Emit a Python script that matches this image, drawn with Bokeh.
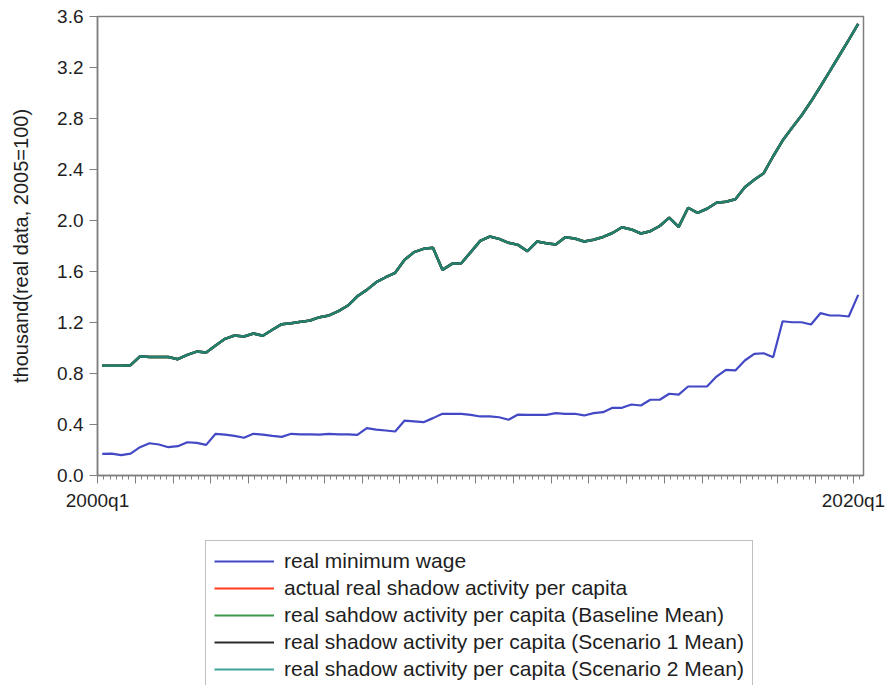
from bokeh.plotting import figure
from bokeh.layouts import column
from bokeh.models import FixedTicker, Legend, LegendItem, NumeralTickFormatter
from bokeh.embed import file_html
from bokeh.resources import INLINE

# Quarterly observations, 2000q1 .. 2020q1 (index 0 .. 80)
quarters = list(range(81))

# Real minimum wage (thousand, 2005=100)
min_wage = [
    0.170, 0.172, 0.160, 0.172, 0.222, 0.253, 0.243, 0.222, 0.230, 0.261,
    0.256, 0.240, 0.327, 0.320, 0.311, 0.296, 0.327, 0.320, 0.311, 0.303,
    0.327, 0.322, 0.322, 0.320, 0.327, 0.322, 0.322, 0.318, 0.371, 0.360,
    0.353, 0.345, 0.431, 0.425, 0.418, 0.450, 0.484, 0.484, 0.484, 0.475,
    0.463, 0.463, 0.457, 0.437, 0.478, 0.476, 0.476, 0.476, 0.489, 0.484,
    0.484, 0.471, 0.489, 0.497, 0.531, 0.531, 0.557, 0.549, 0.594, 0.594,
    0.641, 0.635, 0.698, 0.698, 0.698, 0.776, 0.829, 0.824, 0.902, 0.954,
    0.959, 0.928, 1.210, 1.202, 1.202, 1.184, 1.273, 1.255, 1.255, 1.247,
    1.417,
]

# Actual real shadow activity per capita (thousand, 2005=100)
shadow_actual = [
    0.860, 0.860, 0.860, 0.865, 0.935, 0.930, 0.930, 0.930, 0.912, 0.946,
    0.972, 0.965, 1.020, 1.072, 1.098, 1.090, 1.114, 1.096, 1.143, 1.187,
    1.195, 1.205, 1.216, 1.242, 1.255, 1.289, 1.333, 1.406, 1.456, 1.516,
    1.555, 1.590, 1.692, 1.752, 1.778, 1.786, 1.613, 1.660, 1.665, 1.752,
    1.840, 1.874, 1.856, 1.825, 1.809, 1.759, 1.835, 1.822, 1.812, 1.869,
    1.859, 1.835, 1.849, 1.871, 1.902, 1.947, 1.930, 1.898, 1.916, 1.957,
    2.023, 1.950, 2.100, 2.060, 2.092, 2.139, 2.147, 2.167, 2.261, 2.320,
    2.371, 2.504, 2.627, 2.727, 2.823, 2.933, 3.051, 3.171, 3.294, 3.417,
    3.543,
]

# Simulated means: they reproduce the actual path quarter by quarter
shadow_baseline = list(shadow_actual)
shadow_scenario1 = list(shadow_actual)
shadow_scenario2 = list(shadow_actual)

series_labels = [
    "real minimum wage",
    "actual real shadow activity per capita",
    "real sahdow activity per capita (Baseline Mean)",
    "real shadow activity per capita (Scenario 1 Mean)",
    "real shadow activity per capita (Scenario 2 Mean)",
]
y_ticks = [0.0, 0.4, 0.8, 1.2, 1.6, 2.0, 2.4, 2.8, 3.2, 3.6]
first_label = "2000q1"
last_label = "2020q1"

FONT = "Liberation Sans"
GRAY = "#7f7f7f"
TEXT = "#1e1e1e"

# ---- chart ----
p = figure(
    width=896, height=520,
    x_range=(-0.5, 80.56), y_range=(0, 3.6),
    output_backend="svg", toolbar_location=None,
    min_border_left=97, min_border_right=33,
    min_border_top=16, min_border_bottom=45,
)
p.grid.visible = False
p.outline_line_color = GRAY
p.outline_line_width = 1.5
p.background_fill_color = "white"
p.border_fill_color = "white"

p.line(quarters, shadow_actual, line_color="#ff3a1e", line_width=2.5)
p.line(quarters, shadow_baseline, line_color="#3a9a48", line_width=2.5)
p.line(quarters, shadow_scenario1, line_color="#2a2a2a", line_width=2.5)
p.line(quarters, shadow_scenario2, line_color="#23806f", line_width=2.5)
p.line(quarters, min_wage, line_color="#4349c4", line_width=2.2)

# Y axis
p.yaxis.ticker = FixedTicker(ticks=y_ticks, minor_ticks=[])
p.yaxis.formatter = NumeralTickFormatter(format="0.0")
p.yaxis.axis_label = "thousand(real data, 2005=100)"
p.yaxis.axis_label_text_font = FONT
p.yaxis.axis_label_text_font_style = "normal"
p.yaxis.axis_label_text_font_size = "20px"
p.yaxis.axis_label_text_color = TEXT
p.yaxis.axis_label_standoff = 22
p.yaxis.major_tick_out = 8
p.yaxis.major_tick_in = 0
p.yaxis.major_label_standoff = 6

# X axis: year boundaries as major ticks, finer marks between
major_x = [-0.5 + 4 * k for k in range(21)]
minor_x = [-0.5 + 2 * k / 3 for k in range(122)]
p.xaxis.ticker = FixedTicker(ticks=major_x, minor_ticks=minor_x)
overrides = {t: "" for t in major_x}
overrides[major_x[0]] = first_label
overrides[major_x[-1]] = last_label
p.xaxis.major_label_overrides = overrides
p.xaxis.major_tick_out = 8
p.xaxis.major_tick_in = 0
p.xaxis.minor_tick_out = 4
p.xaxis.minor_tick_in = 0
p.xaxis.major_label_standoff = 6

for ax in (p.xaxis, p.yaxis):
    ax.axis_line_color = GRAY
    ax.axis_line_width = 1.5
    ax.major_tick_line_color = GRAY
    ax.minor_tick_line_color = GRAY
    ax.major_label_text_font = FONT
    ax.major_label_text_font_size = "19px"
    ax.major_label_text_color = TEXT
p.yaxis.minor_tick_line_color = None

# ---- legend strip ----
lg = figure(
    width=896, height=165, x_range=(0, 1), y_range=(0, 1),
    output_backend="svg", toolbar_location=None,
    min_border=0, min_border_left=0, min_border_right=0,
    min_border_top=0, min_border_bottom=0,
)
lg.axis.visible = False
lg.grid.visible = False
lg.outline_line_color = None
lg.background_fill_color = "white"
lg.border_fill_color = "white"

# Sample lines for the legend keys sit outside the strip's visible range
legend_colors = ["#4349c4", "#ff3a1e", "#3a9a48", "#2a2a2a", "#3fa39b"]
items = []
for lab, col in zip(series_labels, legend_colors):
    r = lg.line(x=[-5, -4], y=[-5, -5], line_color=col, line_width=2)
    items.append(LegendItem(label=lab, renderers=[r]))

legend = Legend(
    items=items, location=(108, -5), margin=0, padding=8,
    glyph_width=60, glyph_height=24, label_height=24, spacing=3,
    label_standoff=10,
    label_text_font=FONT, label_text_font_size="21px", label_text_color=TEXT,
    border_line_color=GRAY, border_line_width=1.5,
    background_fill_color="white", background_fill_alpha=1.0,
)
lg.add_layout(legend, "center")

open("out.html", "w").write(file_html(column(p, lg, spacing=0), INLINE))
